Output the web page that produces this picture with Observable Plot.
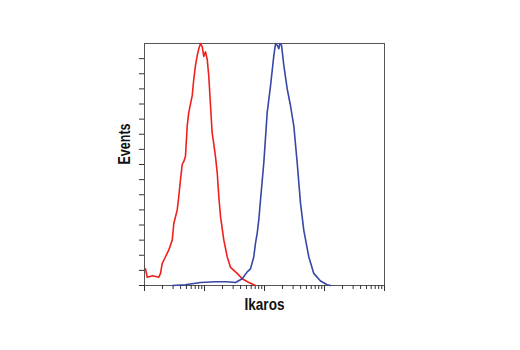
<!DOCTYPE html>
<html><head><meta charset="utf-8">
<script src="https://cdn.jsdelivr.net/npm/d3@7"></script>
<script src="https://cdn.jsdelivr.net/npm/@observablehq/plot@0.6"></script>
<style>body{margin:0;background:#fff}</style>
</head><body><div id="chart"></div>
<script>
// Isotype control (red) — fluorescence intensity vs events
const redX = [1.04, 1.11, 1.36, 1.73, 1.85, 1.97, 2.24, 2.54, 2.9, 3.08, 3.51, 3.73, 3.98, 4.25, 4.52, 4.82, 5.15, 5.47, 6.24, 6.63, 7.08, 7.56, 8.04, 8.58, 9.16, 9.73, 10.4, 11.1, 11.8, 12.6, 13.4, 14.3, 15.2, 16.3, 17.3, 18.5, 21, 23.9, 27.1, 30.8, 35.1, 42.5, 54.7, 70.8];
const redY = [22, 11, 13, 11, 16, 29, 38, 47, 60, 82, 100, 118, 140, 160, 164, 171, 211, 229, 251, 273, 291, 304, 313, 320, 316, 303, 309, 299, 276, 238, 202, 187, 171, 149, 118, 91, 60, 38, 24, 20, 16, 9, 4, 0];
// Ikaros stained (blue)
const blueX = [2.9, 4.8, 8.6, 15.2, 23.9, 32.9, 42.5, 51.5, 58.4, 66.3, 70.8, 75.5, 80.4, 85.8, 97.3, 111, 126, 143, 153, 165, 173, 181, 192, 210, 239, 271, 308, 351, 398, 452, 547, 663, 858, 1109, 1259];
const blueY = [0, 1, 4, 5, 5, 4, 9, 18, 22, 38, 56, 69, 87, 113, 162, 229, 264, 304, 320, 317, 313, 320, 318, 291, 260, 238, 211, 162, 109, 73, 38, 16, 6, 1, 0];
const xMajor = [1, 10, 100, 1000, 10000];
const xMinor = [2,3,4,5,6,7,8,9,20,30,40,50,60,70,80,90,200,300,400,500,600,700,800,900,2000,3000,4000,5000,6000,7000,8000,9000];
const yTicks = [0,20,40,60,80,100,120,140,160,180,200,220,240,260,280,300];
const xLabel = "Ikaros";
const yLabel = "Events";

const red = redX.map((x, i) => ({x, y: redY[i]}));
const blue = blueX.map((x, i) => ({x, y: blueY[i]}));
const font = "'Liberation Sans', Arial, sans-serif";

const chart = Plot.plot({
  width: 520, height: 350,
  marginLeft: 144, marginRight: 136, marginTop: 43, marginBottom: 65,
  style: {fontFamily: font, background: "#fff"},
  x: {type: "log", domain: [1, 10000], axis: null},
  y: {domain: [0, 320], axis: null},
  marks: [
    Plot.frame({stroke: "#555", strokeWidth: 1}),
    Plot.axisX(xMinor, {tickSize: 4, tickFormat: () => "", label: null, stroke: "#333"}),
    Plot.axisX(xMajor, {tickSize: 6, tickFormat: () => "", label: null, stroke: "#333"}),
    Plot.axisY(yTicks, {tickSize: 5, tickFormat: () => "", label: null, stroke: "#333"}),
    Plot.line(red, {x: "x", y: "y", stroke: "#f0201c", strokeWidth: 1.6}),
    Plot.line(blue, {x: "x", y: "y", stroke: "#3747a6", strokeWidth: 1.6}),
    Plot.text([xLabel], {frameAnchor: "bottom", dy: 19, text: d => d, fontSize: 16.5, fontWeight: "bold", fill: "#111", lineAnchor: "middle", className: "lbl-x"}),
    Plot.text([yLabel], {frameAnchor: "left", dx: -19.5, text: d => d, rotate: -90, fontSize: 16.5, fontWeight: "bold", fill: "#111", lineAnchor: "middle", className: "lbl-y"})
  ]
});
// condensed look of the original bold narrow typeface
d3.select(chart).selectAll(".lbl-x text").attr("textLength", 40).attr("lengthAdjust", "spacingAndGlyphs");
d3.select(chart).selectAll(".lbl-y text").attr("textLength", 41).attr("lengthAdjust", "spacingAndGlyphs");
document.getElementById("chart").appendChild(chart);
</script>
</body></html>
